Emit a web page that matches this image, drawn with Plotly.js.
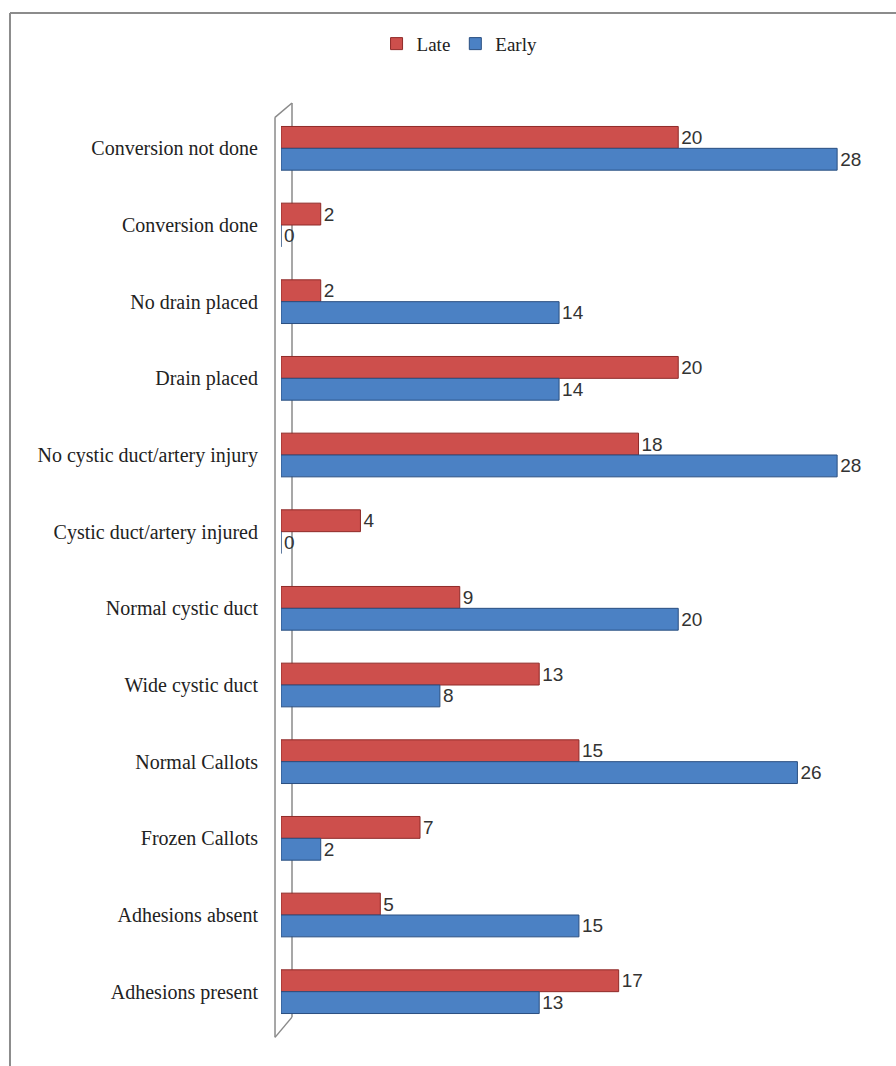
<!DOCTYPE html>
<html>
<head>
<meta charset="utf-8">
<script src="https://cdn.plot.ly/plotly-3.0.1.min.js"></script>
<style>html,body{margin:0;padding:0;background:#fff;}#chart{width:896px;height:1066px;}</style>
</head>
<body>
<div id="chart"></div>
<script>
const categories = [
  "Conversion not done",
  "Conversion done",
  "No drain placed",
  "Drain placed",
  "No cystic duct/artery injury",
  "Cystic duct/artery injured",
  "Normal cystic duct",
  "Wide cystic duct",
  "Normal Callots",
  "Frozen Callots",
  "Adhesions absent",
  "Adhesions present"
];
const lateValues  = [20, 2, 2, 20, 18, 4, 9, 13, 15, 7, 5, 17];
const earlyValues = [28, 0, 14, 14, 28, 0, 20, 8, 26, 2, 15, 13];
const seriesNames = ["Late", "Early"];

const labelFont = {family: "Liberation Sans, Arial, sans-serif", size: 19, color: "#333"};

const traces = [
  {
    type: "bar", orientation: "h", name: seriesNames[0],
    y: categories, x: lateValues,
    text: lateValues.map(String), textposition: "outside", cliponaxis: false,
    constraintext: "none",
    textfont: labelFont,
    marker: {color: "#cd4f4c", line: {color: "#8f2a28", width: 1}}
  },
  {
    type: "bar", orientation: "h", name: seriesNames[1],
    y: categories, x: earlyValues,
    text: earlyValues.map(String), textposition: "outside", cliponaxis: false,
    constraintext: "none",
    textfont: labelFont,
    marker: {color: "#4b81c4", line: {color: "#2a4f80", width: 1}}
  }
];

const wallLine = {color: "#8a8a8a", width: 1.5};
const layout = {
  width: 896, height: 1066,
  margin: {l: 281, r: 39, t: 110, b: 36},
  paper_bgcolor: "#ffffff", plot_bgcolor: "rgba(0,0,0,0)",
  barmode: "group", bargap: 0.43, bargroupgap: 0,
  uniformtext: {mode: false},
  showlegend: true,
  legend: {
    orientation: "h", x: 0.31, xanchor: "center", y: 1.072, yanchor: "middle",
    font: {family: "Liberation Serif, Times New Roman, serif", size: 19, color: "#222"},
    itemwidth: 30, traceorder: "normal"
  },
  xaxis: {range: [0, 29], visible: false, showgrid: false, zeroline: false, fixedrange: true},
  yaxis: {
    type: "category", autorange: "reversed",
    showgrid: false, zeroline: false, showline: false, ticks: "",
    ticklabelstandoff: 22,
    tickfont: {family: "Liberation Serif, Times New Roman, serif", size: 20, color: "#222"}
  },
  shapes: [
    {type: "line", layer: "below", xref: "paper", yref: "paper", x0: -0.0104, x1: -0.0104, y0: 0.992, y1: -0.008, line: wallLine},
    {type: "line", layer: "below", xref: "paper", yref: "paper", x0: 0.0191, x1: 0.0191, y0: 1.0076, y1: 0.014, line: wallLine},
    {type: "line", layer: "below", xref: "paper", yref: "paper", x0: -0.0104, x1: 0.0191, y0: 0.992, y1: 1.0076, line: wallLine},
    {type: "line", layer: "below", xref: "paper", yref: "paper", x0: -0.0104, x1: 0.0191, y0: -0.008, y1: 0.014, line: wallLine},
    {type: "line", xref: "paper", yref: "paper", x0: -0.4705, x1: 1.08, y0: 1.1054, y1: 1.1054, line: {color: "#8c8c8c", width: 2}},
    {type: "line", xref: "paper", yref: "paper", x0: -0.4705, x1: -0.4705, y0: 1.1054, y1: -0.05, line: {color: "#8c8c8c", width: 2}}
  ]
};

Plotly.newPlot("chart", traces, layout, {displayModeBar: false, staticPlot: true});
</script>
</body>
</html>
